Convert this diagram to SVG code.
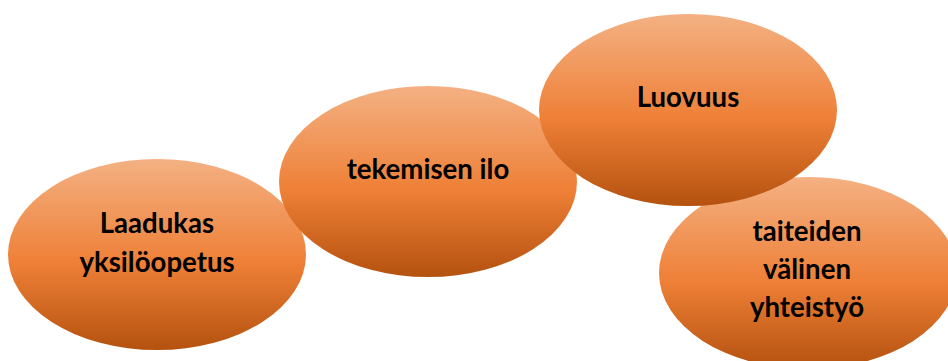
<svg xmlns="http://www.w3.org/2000/svg" width="948" height="361" viewBox="0 0 948 361">
<defs>
<linearGradient id="g" x1="0" y1="0" x2="0" y2="1">
<stop offset="0" stop-color="#F4B183"/>
<stop offset="0.55" stop-color="#EE7F36"/>
<stop offset="1" stop-color="#B4520F"/>
</linearGradient>
<style>
.n{fill:url(#g);}
.t{font-family:Lato,"Liberation Sans",sans-serif;font-weight:bold;font-size:27.6px;fill:#000;text-anchor:middle;}
</style>
</defs>
<rect width="948" height="361" fill="#fff"/>
<g id="connectors"/>
<g id="node-laadukas">
<ellipse class="n" cx="157" cy="254.5" rx="149" ry="95.5"/>
<text class="t" x="157" y="233">Laadukas</text>
<text class="t" x="157" y="272">yksilöopetus</text>
</g>
<g id="node-tekemisen">
<ellipse class="n" cx="428" cy="181.5" rx="149" ry="95.5"/>
<text class="t" x="428" y="179">tekemisen ilo</text>
</g>
<g id="node-taiteiden">
<ellipse class="n" cx="808" cy="273" rx="149" ry="96"/>
<text class="t" x="807" y="241">taiteiden</text>
<text class="t" x="807" y="279">välinen</text>
<text class="t" x="807" y="317">yhteistyö</text>
</g>
<g id="node-luovuus">
<ellipse class="n" cx="688" cy="110" rx="149" ry="96"/>
<text class="t" x="688" y="107">Luovuus</text>
</g>
</svg>
